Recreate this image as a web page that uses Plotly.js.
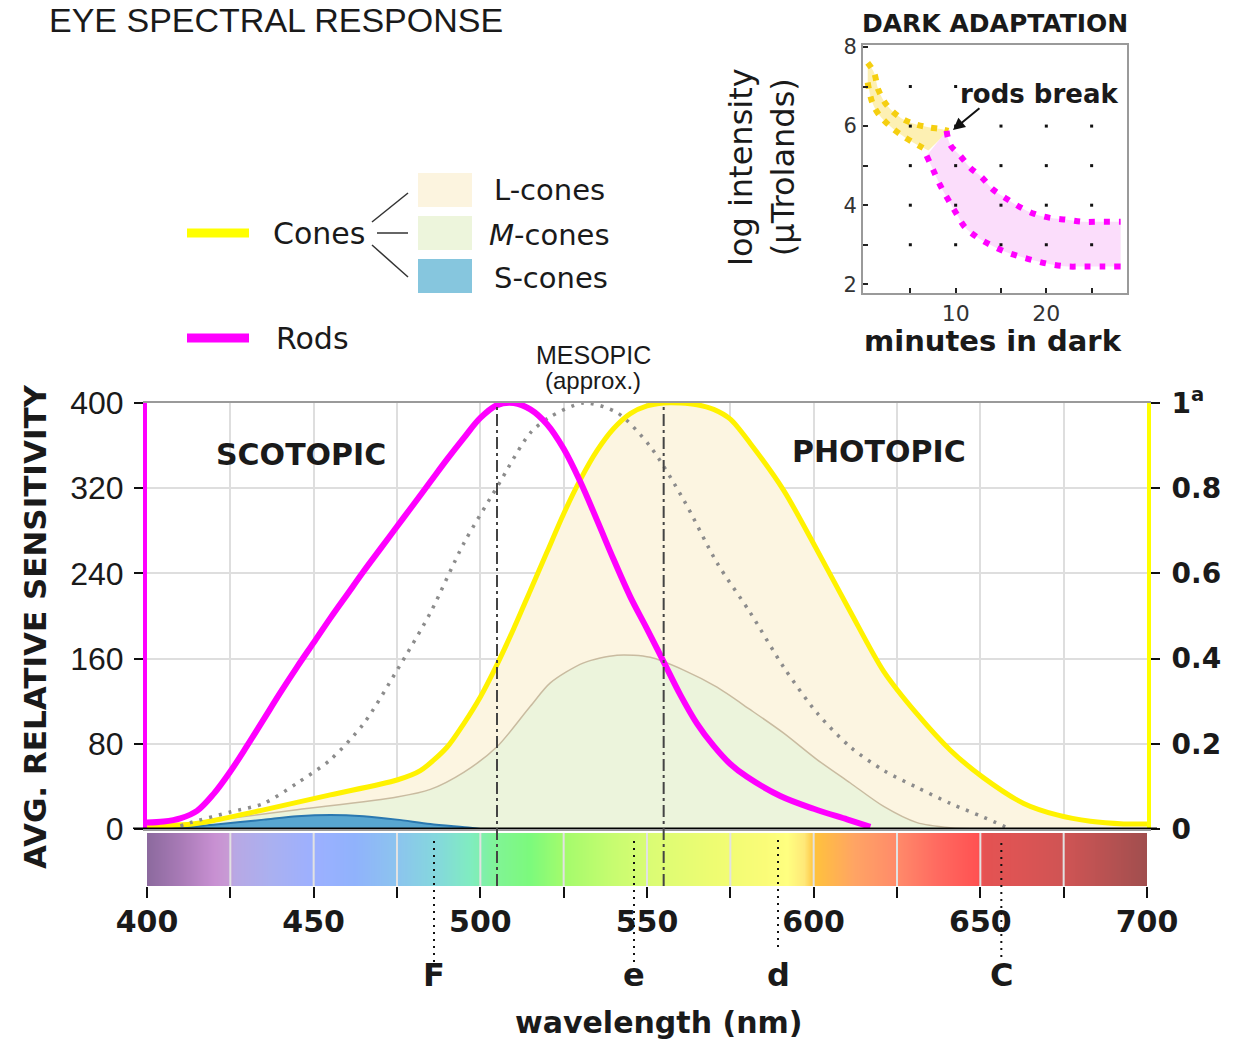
<!DOCTYPE html>
<html>
<head>
<meta charset="utf-8">
<script src="https://cdn.plot.ly/plotly-3.0.1.min.js"></script>
<style>html,body{margin:0;padding:0;background:#fff;}#chart{width:1251px;height:1041px;}</style>
</head>
<body>
<div id="chart"></div>
<script>
// ---------- DATA ----------
// Rods (scotopic) relative sensitivity, left axis 0..400
const rodsNm  = [400,405,410,415,420,425,430,435,440,445,450,455,460,465,470,475,480,485,490,495,500,505,510,515,520,525,530,535,540,545,550,555,560,565,570,575,580,590,600,610,617];
const rodsVal = [6,7,10,17,33,54,78,103,128,152,175,198,220,242,263,284,305,326,347,367,386,398,400,394,380,357,326,290,253,218,188,157,126,99,78,61,49,31,19,9,2];

// Cones (photopic) envelope, right axis 0..1
const conesNm  = [400,405,413,420,435,455,475,482,490,495,500,505,510,515,520,525,530,535,540,545,550,555,560,565,570,575,581,591,601,611,621,631,641,651,663,673,683,693,700];
const conesVal = [0.006,0.008,0.011,0.02,0.045,0.08,0.115,0.137,0.192,0.247,0.31,0.386,0.47,0.56,0.65,0.74,0.82,0.888,0.94,0.975,0.993,1.0,1.0,0.996,0.985,0.962,0.905,0.795,0.655,0.51,0.37,0.27,0.185,0.12,0.06,0.033,0.018,0.012,0.012];

// M-cones, right axis 0..1
const mNm  = [400,415,445,475,485,495,505,515,521,531,541,551,561,571,581,591,601,611,621,631,641,650];
const mVal = [0,0.015,0.045,0.075,0.093,0.133,0.193,0.288,0.343,0.39,0.408,0.403,0.373,0.333,0.28,0.225,0.163,0.108,0.053,0.015,0.003,0];

// S-cones, right axis 0..1
const sNm  = [405,420,435,445,455,465,475,485,497,500];
const sVal = [0,0.01,0.022,0.03,0.033,0.03,0.022,0.012,0.003,0];

// Mesopic (approx.), left axis 0..400
const mesoNm  = [410,413,425,435,445,455,465,475,485,495,505,515,521,531,541,551,561,571,581,591,601,611,621,631,641,651,659];
const mesoVal = [3,6,16,24,43,65,99,149,203,268,321,372,387,400,391,359,309,250,203,152,109,77,55,39,24,11,0];

// Visible spectrum colour stops
const specNm    = [400,410,420,424,426,437,450,462,475,487,497,505,515,525,540,552,570,585,592,597,600,612,625,637,649,651,662,675,687,700];
const specColor = ['#8c6a9e','#a87ab6','#c890d2','#c89ad4','#b8a8e4','#aab0f0','#9cb0ff','#90b2fc','#8cc4ee','#84d8dc','#80ecc0','#80f494','#7cfa7c','#a4fb6c','#c8fc70','#dcfc74','#eefc72','#fafc78','#ffff80','#ffe878','#ffc23c','#ffa464','#ff8a6a','#ff6a60','#ff5252','#e45252','#dc5454','#cf5454','#b95252','#a04e4e'];

// Wavelength ticks
const nmMajor  = [400,450,500,550,600,650,700];
const nmMinor  = [425,475,525,575,625,675];
const leftTicks = [0,80,160,240,320,400];
const rightTicks = [0,0.2,0.4,0.6,0.8,1];
const rightLabels = ['0','0.2','0.4','0.6','0.8','1<sup>a</sup>'];

// Peak markers and Fraunhofer lines
const peakNm = [505,555];
const fraunhoferNm  = [486.1,546.1,589.3,656.3];
const fraunhoferLbl = ['F','e','d','C'];

// Dark adaptation inset
const coneUpMin = [0.3,1.0,1.5,2.5,4.0,5.5,7.0,8.5,9.2];
const coneUpLog = [7.6,7.35,6.9,6.5,6.2,6.05,5.97,5.92,5.88];
const coneLoMin = [0.3,0.8,1.5,3.0,4.5,6.0,7.0];
const coneLoLog = [7.1,6.6,6.3,5.95,5.7,5.5,5.38];
const rodUpMin = [9.0,9.4,10.5,11.6,12.9,14.1,15.7,17.1,18.7,20.4,22.3,24.0,25.7,28.2];
const rodUpLog = [5.88,5.53,5.25,4.95,4.7,4.4,4.15,3.95,3.78,3.68,3.63,3.58,3.58,3.58];
const rodLoMin = [6.8,7.5,8.3,9.2,10.1,11.0,12.3,13.8,15.4,17.1,19.0,20.6,22.4,24.0,25.9,28.2];
const rodLoLog = [5.25,4.9,4.5,4.13,3.78,3.45,3.2,3.0,2.83,2.7,2.58,2.5,2.45,2.45,2.45,2.45];
const minMajor = [10,20];
const minMinor = [5,15,25];
const logMajor = [2,4,6,8];
const logMinor = [3,5,7];
const gridMin = [5,10,15,20,25];
const gridLog = [3,4,5,6,7];

// ---------- HELPERS ----------
const W = 1251, H = 1041;
const px2x = p => p / W;
const px2y = p => 1 - p / H;

const gx = [], gy = [];
gridMin.forEach(m => gridLog.forEach(l => { gx.push(m); gy.push(l); }));

const specScale = specNm.map((nm, i) => [(nm - 400) / 300, specColor[i]]);

// ---------- TRACES ----------
const traces = [
  {x: conesNm, y: conesVal, xaxis: 'x', yaxis: 'y2', type: 'scatter', mode: 'lines',
   line: {width: 0, shape: 'spline', smoothing: 0.8}, fill: 'tozeroy', fillcolor: '#fcf5e1', hoverinfo: 'skip'},
  {x: mNm, y: mVal, xaxis: 'x', yaxis: 'y2', type: 'scatter', mode: 'lines',
   line: {width: 1.5, color: '#c9bba0', shape: 'spline', smoothing: 0.8}, fill: 'tozeroy', fillcolor: '#ecf4dc', hoverinfo: 'skip'},
  {x: sNm, y: sVal, xaxis: 'x', yaxis: 'y2', type: 'scatter', mode: 'lines',
   line: {width: 2, color: '#2a78b0', shape: 'spline', smoothing: 0.8}, fill: 'tozeroy', fillcolor: '#58a6d0', hoverinfo: 'skip'},
  {x: conesNm, y: conesVal, xaxis: 'x', yaxis: 'y2', type: 'scatter', mode: 'lines',
   line: {width: 5, color: '#fff200', shape: 'spline', smoothing: 0.8}, hoverinfo: 'skip'},
  {x: mesoNm, y: mesoVal, xaxis: 'x', yaxis: 'y', type: 'scatter', mode: 'lines',
   line: {width: 3.5, color: '#8c8c8c', dash: '3px,7px', shape: 'spline', smoothing: 0.8}, hoverinfo: 'skip'},
  {x: rodsNm, y: rodsVal, xaxis: 'x', yaxis: 'y', type: 'scatter', mode: 'lines',
   line: {width: 6, color: '#ff00ff', shape: 'spline', smoothing: 1}, hoverinfo: 'skip'},
  {type: 'heatmap', x: specNm, y: [0, 1], z: [specNm, specNm], xaxis: 'x2', yaxis: 'y3',
   colorscale: specScale, zmin: 400, zmax: 700, zsmooth: 'best', showscale: false, hoverinfo: 'skip'},
  {x: coneUpMin, y: coneUpLog, xaxis: 'x3', yaxis: 'y4', type: 'scatter', mode: 'lines',
   line: {width: 6, color: '#f5cf10', dash: '6px,8px', shape: 'spline'}, hoverinfo: 'skip'},
  {x: coneLoMin, y: coneLoLog, xaxis: 'x3', yaxis: 'y4', type: 'scatter', mode: 'lines',
   line: {width: 6, color: '#f5cf10', dash: '6px,8px', shape: 'spline'}, fill: 'tonexty', fillcolor: 'rgba(253,236,160,0.8)', hoverinfo: 'skip'},
  {x: rodUpMin, y: rodUpLog, xaxis: 'x3', yaxis: 'y4', type: 'scatter', mode: 'lines',
   line: {width: 6, color: '#ff00ff', dash: '6px,9px', shape: 'spline'}, hoverinfo: 'skip'},
  {x: rodLoMin, y: rodLoLog, xaxis: 'x3', yaxis: 'y4', type: 'scatter', mode: 'lines',
   line: {width: 6, color: '#ff00ff', dash: '6px,9px', shape: 'spline'}, fill: 'tonexty', fillcolor: 'rgba(250,215,250,0.85)', hoverinfo: 'skip'},
  {x: gx, y: gy, xaxis: 'x3', yaxis: 'y4', type: 'scatter', mode: 'markers',
   marker: {size: 3, color: '#111', symbol: 'square'}, hoverinfo: 'skip'}
];

// ---------- SHAPES ----------
const shapes = [];
shapes.push({type: 'line', xref: 'paper', yref: 'y2', x0: px2x(133), x1: px2x(1157), y0: 0, y1: 0, line: {color: '#000', width: 3}});
peakNm.forEach(nm => shapes.push({type: 'line', xref: 'x', yref: 'paper', x0: nm, x1: nm, y0: px2y(886), y1: px2y(404),
  line: {color: '#444', width: 2, dash: '12px,4px,3px,4px'}}));
nmMinor.concat(nmMajor.slice(1, -1)).forEach(nm => shapes.push({type: 'line', xref: 'x2', yref: 'y3', x0: nm, x1: nm, y0: -0.5, y1: 1.5,
  line: {color: '#e2e2e2', width: 2}}));
const fraunBottom = [962, 962, 947, 957];
fraunhoferNm.forEach((nm, i) => shapes.push({type: 'line', xref: 'x', yref: 'paper', x0: nm, x1: nm, y0: px2y(fraunBottom[i]), y1: px2y(838),
  line: {color: '#111', width: 2, dash: '2px,5px'}}));
shapes.push({type: 'line', xref: 'paper', yref: 'paper', x0: px2x(187), x1: px2x(249), y0: px2y(233), y1: px2y(233), line: {color: '#ffff00', width: 9}});
shapes.push({type: 'line', xref: 'paper', yref: 'paper', x0: px2x(187), x1: px2x(249), y0: px2y(338), y1: px2y(338), line: {color: '#ff00ff', width: 9}});
[[372,222,408,193],[377,233,408,233],[372,245,408,277]].forEach(s => shapes.push({type: 'line', xref: 'paper', yref: 'paper',
  x0: px2x(s[0]), y0: px2y(s[1]), x1: px2x(s[2]), y1: px2y(s[3]), line: {color: '#333', width: 1.5}}));
[[173,207,'#fcf4df'],[216,250,'#edf5dc'],[259,293,'#86c6de']].forEach(s => shapes.push({type: 'rect', xref: 'paper', yref: 'paper',
  x0: px2x(418), x1: px2x(472), y0: px2y(s[1]), y1: px2y(s[0]), line: {width: 0}, fillcolor: s[2]}));

// ---------- ANNOTATIONS ----------
const A = (text, x, y, size, opts) => Object.assign({text, xref: 'paper', yref: 'paper', x: px2x(x), y: px2y(y), showarrow: false,
  xanchor: 'center', yanchor: 'middle', font: {family: 'DejaVu Sans', size, color: '#1a1a1a'}}, opts || {});
const bold = (size) => ({family: 'DejaVu Sans', size, color: '#1a1a1a', weight: 'bold'});
const lib = (size) => ({family: 'Liberation Sans', size, color: '#1a1a1a'});
const annotations = [
  A('EYE SPECTRAL RESPONSE', 47, 20, 34, {xanchor: 'left', font: lib(34)}),
  A('AVG. RELATIVE SENSITIVITY', 35, 627, 31, {textangle: -90, font: bold(31)}),
  A('SCOTOPIC', 301, 455, 30, {font: bold(30)}),
  A('PHOTOPIC', 879, 452, 30, {font: bold(30)}),
  A('MESOPIC', 593, 355, 25, {font: lib(25)}),
  A('(approx.)', 593, 380, 24, {font: lib(24)}),
  A('wavelength (nm)', 659, 1022, 30, {font: bold(30)}),
  A('Cones', 271, 234, 30, {xanchor: 'left'}),
  A('L-cones', 492, 190, 29, {xanchor: 'left'}),
  A('<i>M</i>-cones', 487, 235, 29, {xanchor: 'left'}),
  A('S-cones', 492, 278, 29, {xanchor: 'left'}),
  A('Rods', 274, 338, 30, {xanchor: 'left'}),
  A('DARK ADAPTATION', 995, 24, 25, {font: bold(25)}),
  A('log intensity<br>(µTrolands)', 762, 167, 32, {textangle: -90}),
  A('rods break', 1039, 94, 26, {font: bold(26), bgcolor: '#ffffff', borderpad: 0}),
  {text: '', xref: 'x3', yref: 'y4', x: 9.7, y: 5.9, ax: 28, ay: -23, showarrow: true, arrowhead: 2, arrowsize: 1.2,
   arrowwidth: 2, arrowcolor: '#111'},
  A('minutes in dark', 993, 341, 29, {font: bold(29)})
];
fraunhoferNm.forEach((nm, i) => annotations.push({text: fraunhoferLbl[i], xref: 'x', yref: 'paper', x: nm, y: px2y(975), showarrow: false,
  xanchor: 'center', yanchor: 'middle', font: bold(32)}));

// ---------- LAYOUT ----------
const mainDomX = [px2x(147), px2x(1147)];
const layout = {
  width: W, height: H, margin: {l: 0, r: 0, t: 0, b: 0}, paper_bgcolor: '#fff', plot_bgcolor: 'rgba(0,0,0,0)',
  showlegend: false, font: {family: 'DejaVu Sans', color: '#1a1a1a'},
  xaxis: {domain: mainDomX, range: [400, 700], anchor: 'y2', tickvals: nmMajor.concat(nmMinor), showticklabels: false, ticks: '',
    showgrid: true, gridcolor: '#dedede', gridwidth: 2, zeroline: false, showline: true, linecolor: '#9a9a9a', linewidth: 2, mirror: true},
  yaxis2: {domain: [px2y(829), px2y(403)], range: [0, 1], anchor: 'x', side: 'right', tickvals: rightTicks, ticktext: rightLabels,
    ticks: 'outside', ticklen: 9, tickwidth: 2, tickcolor: '#111', showline: true, linecolor: '#ffff00', linewidth: 4,
    showgrid: true, gridcolor: '#dedede', gridwidth: 2, zeroline: false, tickfont: bold(28), ticklabelstandoff: 6},
  yaxis: {range: [0, 400], overlaying: 'y2', anchor: 'x', side: 'left', tickvals: leftTicks, ticks: 'outside', ticklen: 9, tickwidth: 2,
    tickcolor: '#111', showline: true, linecolor: '#ff00ff', linewidth: 4, showgrid: false, zeroline: false,
    tickfont: lib(32), ticklabelstandoff: 4},
  xaxis2: {domain: mainDomX, range: [400, 700], anchor: 'y3', tickvals: nmMajor, ticks: 'outside', ticklen: 11,
    tickwidth: 2, tickcolor: '#111', showgrid: false, zeroline: false, showline: false, tickfont: bold(30), ticklabelstandoff: -2,
    minor: {tickvals: nmMinor, ticks: 'outside', ticklen: 11, tickwidth: 2, tickcolor: '#111', showgrid: false}},
  yaxis3: {domain: [px2y(886), px2y(833)], range: [-0.5, 1.5], anchor: 'x2', visible: false, fixedrange: true},
  xaxis3: {domain: [px2x(863), px2x(1127)], range: [-0.22, 28.9], anchor: 'y4', tickvals: minMajor,
    ticks: 'inside', ticklen: 5, tickwidth: 2, tickcolor: '#222', showline: true, mirror: true, linecolor: '#9a9a9a', linewidth: 2,
    showgrid: false, zeroline: false, tickfont: {family: 'DejaVu Sans', size: 22, color: '#333'},
    minor: {tickvals: minMinor, ticks: 'inside', ticklen: 5, tickwidth: 2, tickcolor: '#222', showgrid: false}},
  yaxis4: {domain: [px2y(293), px2y(45)], range: [1.78, 8.05], anchor: 'x3', tickvals: logMajor,
    ticks: 'inside', ticklen: 5, tickwidth: 2, tickcolor: '#222', showline: true, mirror: true,
    linecolor: '#9a9a9a', linewidth: 2, showgrid: false, zeroline: false, tickfont: {family: 'DejaVu Sans', size: 21, color: '#333'},
    minor: {tickvals: logMinor, ticks: 'inside', ticklen: 5, tickwidth: 2, tickcolor: '#222', showgrid: false}},
  shapes, annotations
};

Plotly.newPlot('chart', traces, layout, {displayModeBar: false, staticPlot: true});
</script>
</body>
</html>
